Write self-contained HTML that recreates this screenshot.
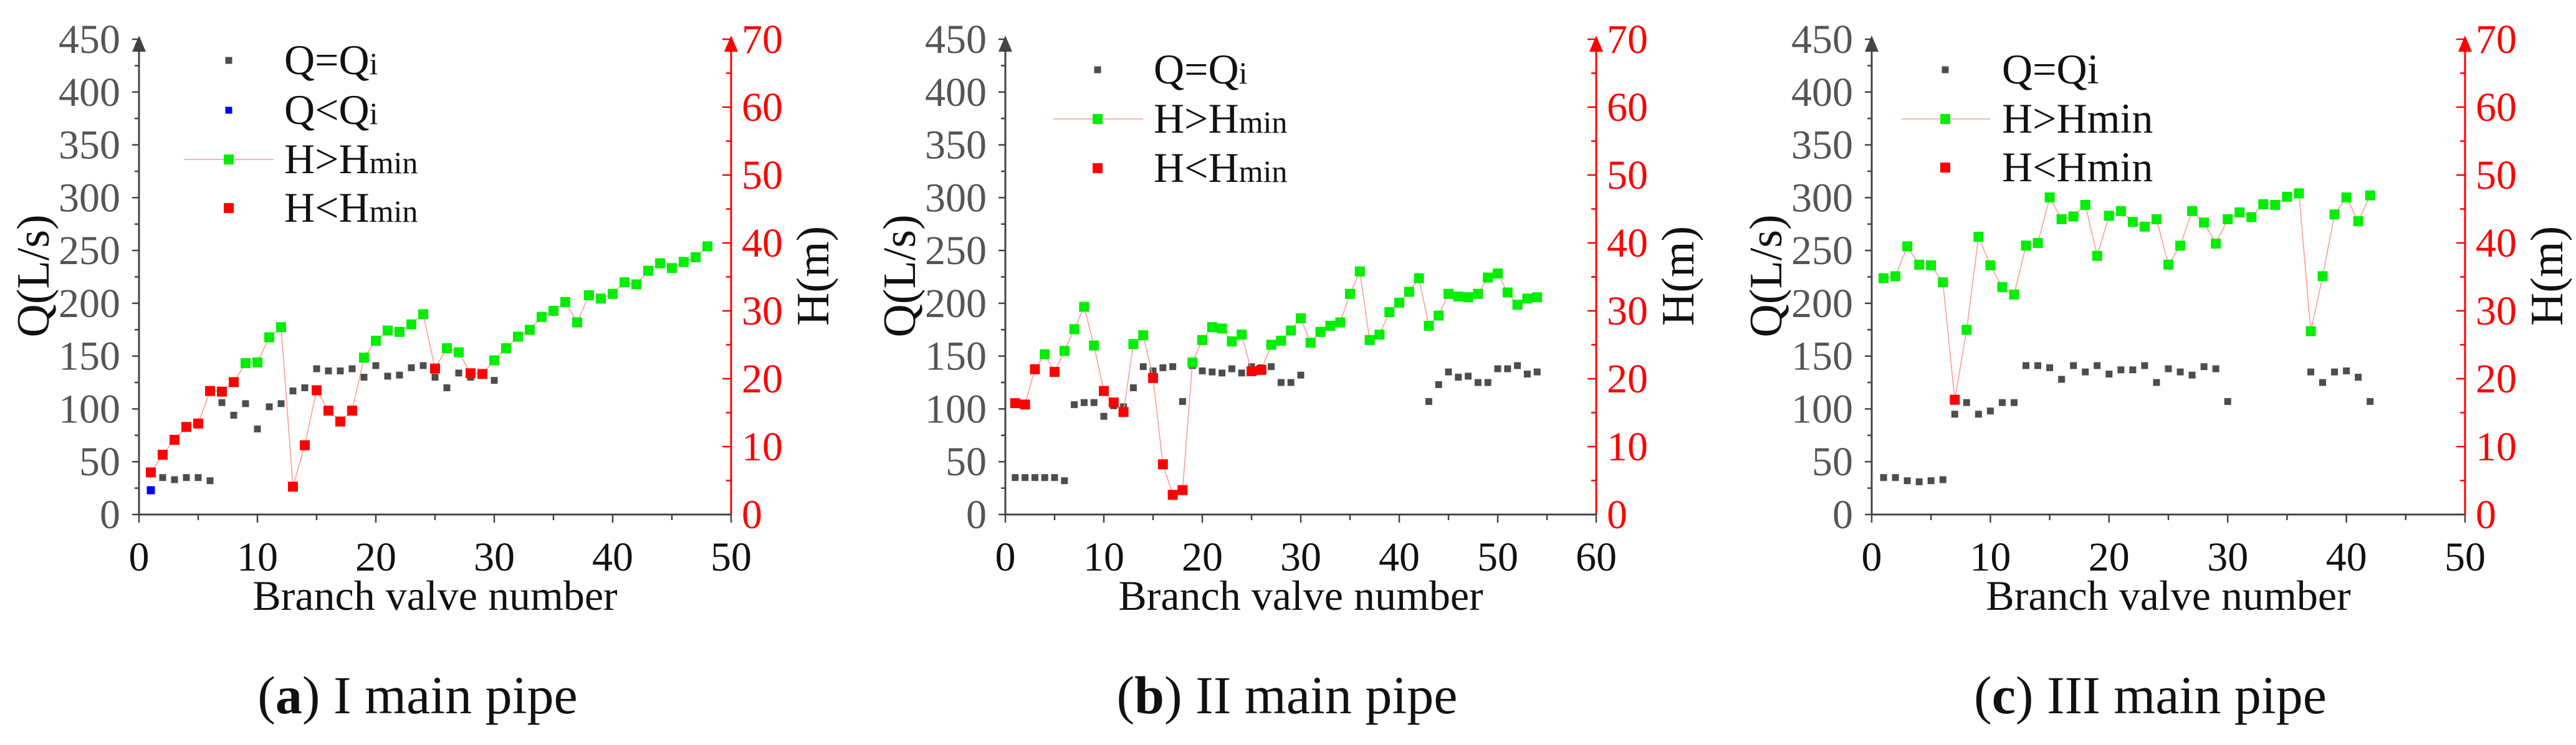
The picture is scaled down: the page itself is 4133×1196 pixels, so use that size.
<!DOCTYPE html>
<html><head><meta charset="utf-8"><style>
html,body{margin:0;padding:0;background:#fff;}
svg, svg text{font-family:"Liberation Serif","DejaVu Serif",serif;}
svg{display:block;}
</style></head><body>
<svg id="fig" width="4133" height="1196" viewBox="0 0 4133 1196" xmlns="http://www.w3.org/2000/svg" font-family="'Liberation Serif', 'DejaVu Serif', serif"></svg>
<script>
// ---- Panel a data ----
const aQValves=[2,3,4,5,6,7,8,9,10,11,12,13,14,15,16,17,18,19,20,21,22,23,24,25,26,27,28,29,30];
const aQ=[35,33,35,35,32,106,94,105,81,102,105,117,120,138,136,136,138,130,141,131,132,139,141,130,120,134,130,133,127];
const aBlueValves=[1];
const aBlue=[23];
const aH=[6.2,8.8,11.0,12.9,13.4,18.2,18.1,19.5,22.3,22.4,26.1,27.6,4.1,10.2,18.3,15.3,13.7,15.3,23.1,25.6,27.1,26.9,28.0,29.5,21.5,24.5,23.9,20.8,20.7,22.7,24.5,26.2,27.2,29.1,30.0,31.3,28.3,32.3,31.8,32.5,34.2,33.9,35.9,37.0,36.3,37.2,37.9,39.5];
const aLow=[1,2,3,4,5,6,7,8,13,14,15,16,17,18,25,28,29];
// ---- Panel b data ----
const bQValves=[1,2,3,4,5,6,7,8,9,10,11,12,13,14,15,16,17,18,19,20,21,22,23,24,25,26,27,28,29,30,43,44,45,46,47,48,49,50,51,52,53,54];
const bQ=[35,35,35,35,35,32,104,106,106,93,103,102,120,140,136,139,140,107,141,136,135,134,138,134,140,139,140,125,125,132,107,123,135,130,131,125,125,138,138,141,133,135];
const bH=[16.4,16.2,21.4,23.6,21.0,24.1,27.3,30.6,24.9,18.2,16.5,15.1,25.1,26.4,20.1,7.4,2.9,3.6,22.4,25.7,27.6,27.4,25.5,26.5,21.1,21.3,25.0,25.6,27.1,28.9,25.3,26.9,27.8,28.3,32.5,35.8,25.7,26.5,29.8,31.2,32.8,34.8,27.8,29.3,32.5,32.1,32.0,32.5,34.9,35.5,32.7,30.9,31.8,32.0];
const bLow=[1,2,3,5,10,11,12,15,16,17,18,25,26];
// ---- Panel c data ----
const cQValves=[1,2,3,4,5,6,7,8,9,10,11,12,13,14,15,16,17,18,19,20,21,22,23,24,25,26,27,28,29,30,37,38,39,40,41,42];
const cQ=[35,35,32,31,32,33,95,106,95,98,106,106,141,141,139,128,141,135,141,133,137,137,141,125,138,135,132,140,138,107,135,125,135,136,130,107];
const cH=[34.8,35.1,39.5,36.8,36.7,34.2,16.9,27.2,40.9,36.7,33.5,32.4,39.6,40.0,46.7,43.5,43.9,45.6,38.1,44.0,44.7,43.1,42.4,43.5,36.8,39.6,44.7,43.0,39.9,43.5,44.5,43.8,45.7,45.6,46.8,47.3,27.0,35.1,44.2,46.7,43.2,47.0];
const cLow=[7];
// ---- axis ticks ----
const qTicks=[0,50,100,150,200,250,300,350,400,450];
const hTicks=[0,10,20,30,40,50,60,70];
const xTicksA=[0,10,20,30,40,50];
const xTicksB=[0,10,20,30,40,50,60];

const NS="http://www.w3.org/2000/svg";
const FF="'Liberation Serif','DejaVu Serif',serif";
const svg=document.getElementById('fig');
function mk(tag,attrs,parent,text){const e=document.createElementNS(NS,tag);for(const k in attrs)e.setAttribute(k,attrs[k]);if(tag==='text')e.setAttribute('font-family',FF);if(text!==undefined)e.textContent=text;(parent||svg).appendChild(e);return e;}

const Y0=826,Y1=63;
function yQ(v){return Y0-(v/450)*(Y0-Y1);}
function yH(v){return Y0-(v/70)*(Y0-Y1);}

function panel(cfg){
  const g=mk('g',{});
  
  
  const x0=cfg.x0,x1=cfg.x1,xmax=cfg.xmax;
  const xs=v=>x0+(v/xmax)*(x1-x0);
  const la=mk('line',{x1:x0,y1:Y0,x2:x0,y2:Y1+8,stroke:'#444','stroke-width':3},g);
  
  mk('polygon',{points:`${x0-11},${Y1+20} ${x0+11},${Y1+20} ${x0},${Y1-6}`,fill:'#444'},g);
  for(let v=0;v<=450;v+=25){const y=yQ(v);mk('line',{x1:x0-(v%50===0?11:7),y1:y,x2:x0,y2:y,stroke:'#444','stroke-width':2.5},g);}
  qTicks.forEach(v=>{const t=mk('text',{x:x0-30,y:yQ(v)+22,'text-anchor':'end','font-size':66,fill:'#555'},g,String(v));
    });
  const ra=mk('line',{x1:x1,y1:Y0,x2:x1,y2:Y1+8,stroke:'#ff0000','stroke-width':3},g);
  
  mk('polygon',{points:`${x1-11},${Y1+20} ${x1+11},${Y1+20} ${x1},${Y1-6}`,fill:'#ff0000'},g);
  for(let v=0;v<=70;v+=5){const y=yH(v);mk('line',{x1:x1-(v%10===0?14:8),y1:y,x2:x1,y2:y,stroke:'#ff0000','stroke-width':2.5},g);}
  hTicks.forEach(v=>{const t=mk('text',{x:x1+17,y:yH(v)+22,'text-anchor':'start','font-size':66,fill:'#ff0000'},g,String(v));
    });
  const xa=mk('line',{x1:x0,y1:Y0,x2:x1,y2:Y0,stroke:'#444','stroke-width':3},g);
  
  for(let v=0;v<=xmax;v+=5){const x=xs(v);mk('line',{x1:x,y1:Y0,x2:x,y2:Y0+(v%10===0?13:9),stroke:'#444','stroke-width':2.5},g);}
  cfg.xticks.forEach(v=>{const t=mk('text',{x:xs(v),y:Y0+90,'text-anchor':'middle','font-size':66,fill:'#111'},g,String(v));
    });
  let t=mk('text',{x:(x0+x1)/2,y:979,'text-anchor':'middle','font-size':68,fill:'#111'},g,'Branch valve number');
  
  t=mk('text',{x:0,y:0,'text-anchor':'middle','font-size':74,fill:'#111',transform:`translate(${x0-145},443) rotate(-90)`},g,'Q(L/s)');
  
  t=mk('text',{x:0,y:0,'text-anchor':'middle','font-size':74,fill:'#111',transform:`translate(${x1+156},443) rotate(-90)`},g,'H(m)');
  
  t=mk('text',{x:cfg.capX,y:1145,'text-anchor':'middle','font-size':86,fill:'#111'},g);
  
  mk('tspan',{},t,'(');mk('tspan',{'font-weight':'bold'},t,cfg.letter);mk('tspan',{},t,') '+cfg.cap);
  cfg.qv.forEach((v,i)=>{const s=11;const r=mk('rect',{x:xs(v)-s/2,y:yQ(cfg.q[i])-s/2,width:s,height:s,fill:'#4d4d4d'},g);
    });
  if(cfg.bv){cfg.bv.forEach((v,i)=>{const s=13;const r=mk('rect',{x:xs(v)-s/2,y:yQ(cfg.b[i])-s/2,width:s,height:s,fill:'#0000ff'},g);
    });}
  const pts=cfg.h.map((v,i)=>xs(i+1)+','+yH(v)).join(' ');
  const pl=mk('polyline',{points:pts,fill:'none',stroke:'#ff9a9a','stroke-width':1.6},g);
  
  cfg.h.forEach((v,i)=>{const low=cfg.low.includes(i+1);const s=16;
    const r=mk('rect',{x:xs(i+1)-s/2,y:yH(v)-s/2,width:s,height:s,fill:low?'#ff0000':'#00ee00'},g);
    });
  const L=cfg.leg;
  L.items.forEach((it,k)=>{const y=L.ys[k];
    const lg=mk('g',{},g);
    if(it.line)mk('line',{x1:L.lx0,y1:y,x2:L.lx1,y2:y,stroke:'#ff9a9a','stroke-width':1.6},lg);
    mk('rect',{x:L.mx-it.s/2,y:y-it.s/2,width:it.s,height:it.s,fill:it.c},lg);
    const tx=mk('text',{x:L.tx,y:y+22,'font-size':68,fill:'#111'},lg);
    mk('tspan',{},tx,it.a);mk('tspan',{'font-size':it.small?50:68},tx,it.b);});
  return g;
}
const legA={mx:367,tx:456,lx0:295,lx1:439,ys:[97,177,256,334],items:[
 {a:'Q=Q',b:'i',c:'#4d4d4d',s:11,small:true},{a:'Q<Q',b:'i',c:'#0000ff',s:11,small:true},
 {a:'H>H',b:'min',c:'#00ee00',s:16,small:true,line:true},{a:'H<H',b:'min',c:'#ff0000',s:16,small:true}]};
const legB={mx:1761,tx:1851,lx0:1690,lx1:1834,ys:[112,191,270],items:[
 {a:'Q=Q',b:'i',c:'#4d4d4d',s:11,small:true},{a:'H>H',b:'min',c:'#00ee00',s:16,small:true,line:true},{a:'H<H',b:'min',c:'#ff0000',s:16,small:true}]};
const legC={mx:3121,tx:3212,lx0:3051,lx1:3193,ys:[112,191,269],items:[
 {a:'Q=Q',b:'i',c:'#4d4d4d',s:11,small:false},{a:'H>H',b:'min',c:'#00ee00',s:16,small:false,line:true},{a:'H<H',b:'min',c:'#ff0000',s:16,small:false}]};
panel({id:'panel-a',x0:223,x1:1173,xmax:50,xticks:xTicksA,qv:aQValves,q:aQ,bv:aBlueValves,b:aBlue,h:aH,low:aLow,leg:legA,capX:670,letter:'a',cap:'I main pipe'});
panel({id:'panel-b',x0:1613,x1:2561,xmax:60,xticks:xTicksB,qv:bQValves,q:bQ,h:bH,low:bLow,leg:legB,capX:2065,letter:'b',cap:'II main pipe'});
panel({id:'panel-c',x0:3003,x1:3955,xmax:50,xticks:xTicksA,qv:cQValves,q:cQ,h:cH,low:cLow,leg:legC,capX:3450,letter:'c',cap:'III main pipe'});
</script>
</body></html>
